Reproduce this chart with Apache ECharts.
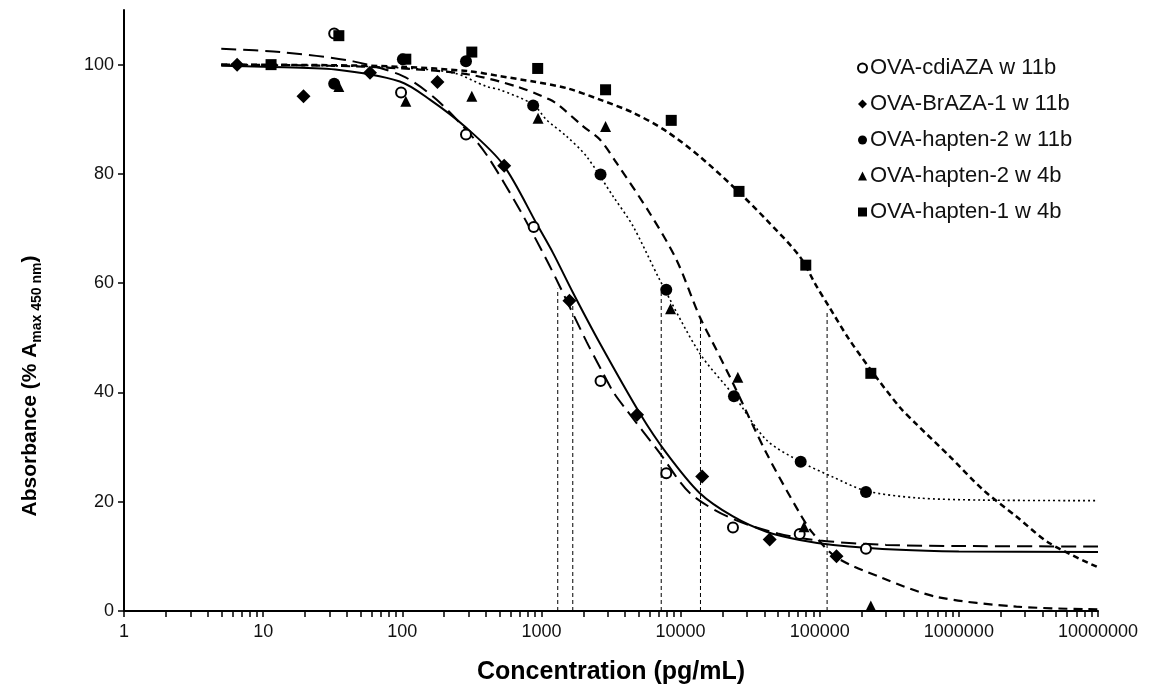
<!DOCTYPE html>
<html>
<head>
<meta charset="utf-8">
<script src="https://cdn.jsdelivr.net/npm/echarts@6/dist/echarts.min.js"></script>
<style>
html,body{margin:0;padding:0;background:#fff;}
#chart{width:1158px;height:690px;}
</style>
</head>
<body>
<div id="chart"></div>
<script>
// ---- Data ----
var seriesNames = ['OVA-cdiAZA w 11b','OVA-BrAZA-1 w 11b','OVA-hapten-2 w 11b','OVA-hapten-2 w 4b','OVA-hapten-1 w 4b'];

// measured points [concentration pg/mL, % Amax]
var pts_cdiAZA = [[32.4,105.7],[98,94.9],[287,87.2],[880,70.3],[2660,42.1],[7890,25.2],[23800,15.3],[71800,14.1],[215000,11.4]];
var pts_BrAZA = [[6.5,100],[19.5,94.2],[58.6,98.5],[179,96.8],[540,81.5],[1590,56.8],[4870,35.9],[14300,24.6],[43700,13.1],[132000,10.0]];
var pts_h2w11 = [[32.4,96.5],[101,101],[287,100.6],[872,92.5],[2660,79.9],[7890,58.8],[24200,39.3],[73000,27.3],[215000,21.8]];
var pts_h2w4 = [[35,96],[106,93.3],[316,94.2],[946,90.2],[2890,88.7],[8470,55.3],[25800,42.8],[77100,15.4],[233000,0.9]];
var pts_h1w4 = [[11.4,100],[35,105.3],[106,101],[316,102.3],[940,99.3],[2890,95.4],[8570,89.8],[26300,76.8],[79400,63.3],[233000,43.5]];

// fitted curves
var fit_cdiAZA = [[5,99.8],[10,99.6],[33,99.1],[96,96.9],[158,93.6],[290,88.4],[531,81.7],[946,70.4],[1213,65.5],[1690,58.2],[2630,49.0],[5090,36.2],[7920,28.9],[13700,21.6],[23800,17.3],[41400,14.5],[71800,13.0],[125000,12.1],[376000,11.2],[1000000,10.9],[10000000,10.8]];
var fit_BrAZA = [[5,102.9],[13.2,102.3],[44.4,100.6],[101,97.9],[176,93.6],[332,86.3],[426,82.6],[700,73.4],[1088,64.3],[1356,59.4],[2109,49.3],[2660,44.4],[3300,40.0],[4084,36.8],[7090,28.9],[11650,21.6],[23000,17.0],[50000,14.2],[100000,12.9],[300000,12.1],[1000000,11.9],[10000000,11.8]];
var fit_h2w11 = [[5,100],[30,99.8],[100,99.4],[232,98.5],[403,96.0],[502,95.4],[872,92.7],[1088,89.9],[1514,86.9],[2109,83.2],[3273,75.9],[4560,70.4],[7090,60.6],[13700,47.2],[24200,39.4],[41400,31.3],[73100,27.3],[125000,24.5],[214000,22.0],[500000,20.7],[1490000,20.3],[10000000,20.2]];
var fit_h2w4 = [[5,100],[30,99.8],[100,99.3],[300,98.2],[661,96.0],[1148,93.6],[1356,92.4],[1994,88.7],[2630,86.3],[3467,82.0],[6010,72.8],[9340,64.3],[13700,53.9],[18100,47.8],[23800,41.7],[41400,28.9],[71800,17.9],[89500,14.2],[132000,9.8],[285000,6.0],[689000,2.6],[2590000,0.8],[10000000,0.3]];
var fit_h1w4 = [[5,100],[30,99.9],[100,99.6],[300,98.8],[502,97.9],[872,96.9],[1514,95.7],[2630,93.6],[4560,91.2],[7920,87.8],[13700,83.2],[23800,77.7],[41400,71.6],[71800,64.9],[94600,59.5],[118000,55.5],[160000,50.0],[232000,44.2],[376000,37.3],[495000,34.2],[859000,28.3],[1490000,22.2],[2590000,17.3],[4490000,12.4],[10000000,8.0]];

// IC50 drop lines
var ic50X = [1310, 1680, 7260, 13900, 113000];
var ic50Top = [59, 57.5, 59, 53.5, 55];

// axis ticks
var yTicks = [0,20,40,60,80,100];
var xDecades = [1,10,100,1000,10000,100000,1000000,10000000];
var xMinorMult = [2,3,4,5,6,7,8,9];

// ---- build ----
var xTickValues = xDecades.slice();
xDecades.slice(0, xDecades.length - 1).forEach(function (d) {
  xMinorMult.forEach(function (m) { xTickValues.push(d * m); });
});

var font = '"Liberation Sans", Arial, sans-serif';
var black = '#000';

function curve(data, type, width) {
  return {
    type: 'line', data: data, showSymbol: false, symbol: 'none',
    smooth: 0.3, z: 2, silent: true,
    lineStyle: {color: black, width: width, type: type}
  };
}

var series = [
  curve(fit_cdiAZA, 'solid', 2),
  curve(fit_BrAZA, [15, 7], 2),
  curve(fit_h2w11, [2, 3], 1.6),
  curve(fit_h2w4, [9, 6], 2.2),
  curve(fit_h1w4, [6, 4], 2.5)
];

ic50X.forEach(function (x, i) {
  series.push({
    type: 'line', data: [[x, 0], [x, ic50Top[i]]], symbol: 'none', z: 1, silent: true,
    lineStyle: {color: black, width: 1, type: [4, 3]}
  });
});

function pts(name, data, symbol, size, itemStyle) {
  itemStyle.opacity = 1;
  return {
    name: name, type: 'scatter', data: data, symbol: symbol, symbolSize: size, z: 5,
    itemStyle: itemStyle
  };
}

series.push(pts(seriesNames[0], pts_cdiAZA, 'circle', 10, {color: '#fff', borderColor: black, borderWidth: 2}));
series.push(pts(seriesNames[1], pts_BrAZA, 'diamond', 14, {color: black}));
series.push(pts(seriesNames[2], pts_h2w11, 'circle', 12, {color: black}));
series.push(pts(seriesNames[3], pts_h2w4, 'triangle', 11, {color: black}));
series.push(pts(seriesNames[4], pts_h1w4, 'rect', 11, {color: black}));

var chart = echarts.init(document.getElementById('chart'), null, {renderer: 'canvas'});
chart.setOption({
  animation: false,
  backgroundColor: '#fff',
  grid: {left: 124, right: 60, top: 10, bottom: 79, containLabel: false},
  legend: {
    data: seriesNames,
    orient: 'vertical',
    left: 852, top: 52,
    itemWidth: 9, itemHeight: 9, itemGap: 14,
    textStyle: {fontFamily: font, fontSize: 22, color: '#111', padding: [0, 0, 0, -2]}
  },
  xAxis: {
    type: 'log', logBase: 10, min: 1, max: 10000000,
    axisLine: {lineStyle: {color: black, width: 2}},
    axisTick: {show: true, inside: false, length: 6, lineStyle: {color: black, width: 1.5}, customValues: xTickValues},
    axisLabel: {fontFamily: font, fontSize: 18, color: '#111', margin: 12,
      formatter: function (v) { return String(Math.round(v)); }},
    splitLine: {show: false}
  },
  yAxis: {
    type: 'value', min: 0, max: 110,
    axisLine: {show: true, lineStyle: {color: black, width: 2}},
    axisTick: {show: true, length: 6, lineStyle: {color: black, width: 1.5}, customValues: yTicks},
    axisLabel: {fontFamily: font, fontSize: 18, color: '#111', margin: 10, customValues: yTicks},
    splitLine: {show: false}
  },
  graphic: [
    {
      type: 'text', x: 611, y: 672,
      style: {text: 'Concentration (pg/mL)', font: 'bold 25px "Liberation Sans Narrow", "Liberation Sans", Arial, sans-serif',
        fill: black, align: 'center', verticalAlign: 'middle'}
    },
    {
      type: 'text', x: 30, y: 386, rotation: Math.PI / 2,
      style: {
        text: '{a|Absorbance (% A}{s|max 450 nm}{a|)}',
        align: 'center', verticalAlign: 'middle', fill: black,
        rich: {
          a: {fontFamily: font, fontWeight: 'bold', fontSize: 21, lineHeight: 28, fill: black, verticalAlign: 'middle'},
          s: {fontFamily: '"Liberation Sans Narrow", "Liberation Sans", Arial, sans-serif', fontWeight: 'bold', fontSize: 14, lineHeight: 14, fill: black, verticalAlign: 'bottom'}
        }
      }
    }
  ],
  series: series
});
</script>
</body>
</html>
